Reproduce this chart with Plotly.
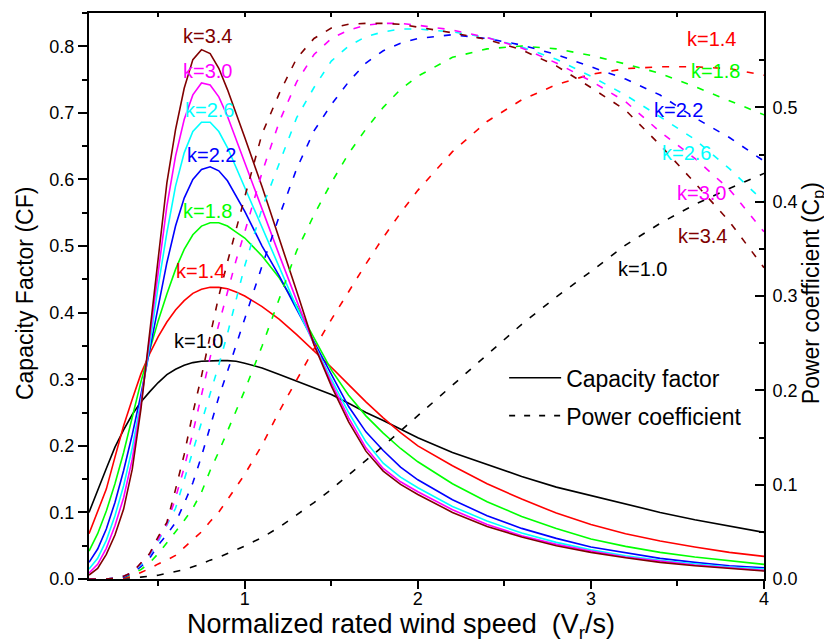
import plotly.graph_objects as go

# ---------------- data ----------------
X = [0.1, 0.15, 0.2, 0.25, 0.3, 0.35, 0.4, 0.45, 0.5, 0.55, 0.6, 0.65, 0.7, 0.75, 0.8,
     0.85, 0.9, 0.95, 1.0, 1.1, 1.2, 1.3, 1.4, 1.5, 1.6, 1.7, 1.8, 1.9, 2.0, 2.2, 2.4,
     2.6, 2.8, 3.0, 3.2, 3.4, 3.6, 3.8, 4.0]

K_LABELS = ["k=1.0", "k=1.4", "k=1.8", "k=2.2", "k=2.6", "k=3.0", "k=3.4"]
COLORS = ["#000000", "#FF0000", "#00FF00", "#0000FF", "#00FFFF", "#FF00FF", "#800000"]

# Capacity factor (left axis)
CF_K10 = [0.100, 0.134, 0.166, 0.198, 0.224, 0.247, 0.266, 0.281, 0.295, 0.307, 0.315, 0.321,
          0.325, 0.327, 0.328, 0.328, 0.328, 0.327, 0.324, 0.317, 0.307, 0.297, 0.287, 0.277,
          0.264, 0.250, 0.238, 0.225, 0.212, 0.190, 0.172, 0.154, 0.138, 0.125, 0.112, 0.100,
          0.089, 0.079, 0.070]
CF_K14 = [0.068, 0.100, 0.135, 0.183, 0.230, 0.270, 0.308, 0.338, 0.364, 0.386, 0.404, 0.418,
          0.429, 0.435, 0.438, 0.438, 0.436, 0.431, 0.425, 0.409, 0.390, 0.367, 0.343, 0.318,
          0.292, 0.266, 0.242, 0.220, 0.200, 0.170, 0.143, 0.120, 0.099, 0.082, 0.068, 0.057,
          0.048, 0.040, 0.034]
CF_K18 = [0.042, 0.068, 0.102, 0.143, 0.190, 0.243, 0.296, 0.343, 0.388, 0.428, 0.465, 0.495,
          0.517, 0.530, 0.535, 0.535, 0.530, 0.521, 0.512, 0.485, 0.452, 0.410, 0.362, 0.314,
          0.276, 0.245, 0.219, 0.196, 0.176, 0.143, 0.116, 0.094, 0.076, 0.060, 0.049, 0.040,
          0.033, 0.027, 0.022]
CF_K22 = [0.025, 0.045, 0.075, 0.115, 0.163, 0.217, 0.277, 0.345, 0.412, 0.475, 0.530, 0.572,
          0.600, 0.615, 0.619, 0.613, 0.598, 0.576, 0.552, 0.500, 0.455, 0.405, 0.356, 0.306,
          0.259, 0.221, 0.193, 0.168, 0.149, 0.119, 0.095, 0.076, 0.061, 0.048, 0.039, 0.031,
          0.025, 0.020, 0.017]
CF_K26 = [0.015, 0.031, 0.058, 0.095, 0.140, 0.197, 0.268, 0.350, 0.440, 0.520, 0.590, 0.640,
          0.672, 0.686, 0.686, 0.672, 0.648, 0.618, 0.587, 0.527, 0.467, 0.408, 0.353, 0.300,
          0.250, 0.206, 0.174, 0.153, 0.137, 0.109, 0.087, 0.069, 0.055, 0.044, 0.035, 0.028,
          0.023, 0.018, 0.015]
CF_K30 = [0.009, 0.022, 0.046, 0.080, 0.122, 0.180, 0.262, 0.360, 0.465, 0.560, 0.635, 0.690,
          0.727, 0.745, 0.742, 0.724, 0.695, 0.660, 0.624, 0.556, 0.486, 0.418, 0.352, 0.295,
          0.242, 0.197, 0.166, 0.146, 0.131, 0.104, 0.082, 0.065, 0.052, 0.042, 0.033, 0.027,
          0.021, 0.017, 0.013]
CF_K34 = [0.006, 0.016, 0.037, 0.066, 0.105, 0.165, 0.255, 0.370, 0.490, 0.595, 0.675, 0.737,
          0.780, 0.795, 0.789, 0.767, 0.735, 0.700, 0.663, 0.589, 0.512, 0.432, 0.352, 0.290,
          0.236, 0.192, 0.162, 0.142, 0.127, 0.100, 0.079, 0.063, 0.050, 0.040, 0.032, 0.025,
          0.020, 0.016, 0.012]

# Power coefficient (right axis)
CP_K10 = [0.000, 0.000, 0.000, 0.000, 0.001, 0.001, 0.002, 0.003, 0.004, 0.006, 0.008, 0.010,
          0.013, 0.016, 0.020, 0.023, 0.027, 0.031, 0.035, 0.044, 0.055, 0.068, 0.081, 0.095,
          0.110, 0.125, 0.141, 0.157, 0.173, 0.206, 0.238, 0.270, 0.299, 0.326, 0.354, 0.377,
          0.397, 0.414, 0.430]
CP_K14 = [0.000, 0.000, 0.000, 0.000, 0.001, 0.003, 0.007, 0.011, 0.016, 0.020, 0.025, 0.033,
          0.041, 0.050, 0.061, 0.071, 0.084, 0.097, 0.111, 0.142, 0.178, 0.211, 0.244, 0.275,
          0.305, 0.334, 0.362, 0.388, 0.412, 0.453, 0.485, 0.508, 0.524, 0.535, 0.541, 0.543,
          0.543, 0.541, 0.534]
CP_K18 = [0.000, 0.000, 0.000, 0.000, 0.002, 0.005, 0.010, 0.017, 0.027, 0.038, 0.050, 0.062,
          0.075, 0.092, 0.115, 0.135, 0.156, 0.178, 0.200, 0.247, 0.298, 0.348, 0.386, 0.420,
          0.451, 0.477, 0.500, 0.519, 0.533, 0.553, 0.562, 0.565, 0.562, 0.555, 0.546, 0.536,
          0.522, 0.507, 0.492]
CP_K22 = [0.000, 0.000, 0.000, 0.001, 0.002, 0.006, 0.013, 0.022, 0.036, 0.047, 0.060, 0.080,
          0.102, 0.130, 0.162, 0.193, 0.220, 0.247, 0.276, 0.332, 0.385, 0.435, 0.475, 0.503,
          0.527, 0.547, 0.560, 0.568, 0.573, 0.577, 0.573, 0.566, 0.556, 0.543, 0.530, 0.513,
          0.489, 0.468, 0.443]
CP_K26 = [0.000, 0.000, 0.000, 0.001, 0.003, 0.007, 0.015, 0.025, 0.040, 0.057, 0.075, 0.105,
          0.135, 0.165, 0.195, 0.227, 0.260, 0.296, 0.332, 0.393, 0.441, 0.489, 0.521, 0.549,
          0.565, 0.575, 0.580, 0.583, 0.583, 0.580, 0.574, 0.564, 0.551, 0.533, 0.513, 0.490,
          0.466, 0.435, 0.400]
CP_K30 = [0.000, 0.000, 0.000, 0.001, 0.003, 0.007, 0.016, 0.026, 0.042, 0.058, 0.086, 0.118,
          0.155, 0.195, 0.235, 0.270, 0.305, 0.338, 0.368, 0.431, 0.485, 0.527, 0.556, 0.573,
          0.582, 0.587, 0.589, 0.589, 0.587, 0.582, 0.574, 0.563, 0.547, 0.528, 0.506, 0.474,
          0.446, 0.413, 0.368]
CP_K34 = [0.000, 0.000, 0.000, 0.001, 0.003, 0.007, 0.017, 0.027, 0.045, 0.060, 0.095, 0.132,
          0.176, 0.215, 0.258, 0.300, 0.336, 0.372, 0.405, 0.472, 0.515, 0.552, 0.573, 0.584,
          0.588, 0.589, 0.589, 0.588, 0.585, 0.579, 0.572, 0.561, 0.544, 0.521, 0.497, 0.460,
          0.420, 0.379, 0.330]

CF_SERIES = [CF_K10, CF_K14, CF_K18, CF_K22, CF_K26, CF_K30, CF_K34]
CP_SERIES = [CP_K10, CP_K14, CP_K18, CP_K22, CP_K26, CP_K30, CP_K34]

# label anchor positions (text placement)
CF_LABEL_X = [0.730, 0.747, 0.785, 0.805, 0.799, 0.7875, 0.7875]
CF_LABEL_Y = [0.357, 0.463, 0.553, 0.6375, 0.705, 0.763, 0.816]
CP_LABEL_X = [3.30, 3.694, 3.717, 3.506, 3.555, 3.636, 3.645]
CP_LABEL_Y = [0.3286, 0.5724, 0.538, 0.497, 0.452, 0.4097, 0.364]

FONT = "Liberation Sans, Arial, sans-serif"
DASH = "7px,10px"

fig = go.Figure()

for cf, color in zip(CF_SERIES, COLORS):
    fig.add_trace(go.Scatter(x=X, y=cf, mode="lines", yaxis="y",
                             line=dict(color=color, width=1.6),
                             showlegend=False, hoverinfo="skip"))
for cp, color in zip(CP_SERIES, COLORS):
    fig.add_trace(go.Scatter(x=X, y=cp, mode="lines", yaxis="y2",
                             line=dict(color=color, width=1.6, dash=DASH),
                             showlegend=False, hoverinfo="skip"))

# legend entries
fig.add_trace(go.Scatter(x=[None], y=[None], mode="lines", name="Capacity factor",
                         line=dict(color="black", width=1.6), legendgroup="a"))
fig.add_trace(go.Scatter(x=[None], y=[None], mode="lines", name="Power coefficient",
                         line=dict(color="black", width=1.6, dash="6px,9px"), legendgroup="b"))
# carrier for the top tick axis
fig.add_trace(go.Scatter(x=[X[0], X[-1]], y=[None, None], xaxis="x2", yaxis="y",
                         mode="lines", showlegend=False, hoverinfo="skip"))

annotations = []
for lab, c, x, y in zip(K_LABELS, COLORS, CF_LABEL_X, CF_LABEL_Y):
    annotations.append(dict(x=x, y=y, xref="x", yref="y", text=lab, showarrow=False,
                            font=dict(family=FONT, size=20, color=c),
                            xanchor="center", yanchor="middle"))
for lab, c, x, y in zip(K_LABELS, COLORS, CP_LABEL_X, CP_LABEL_Y):
    annotations.append(dict(x=x, y=y, xref="x", yref="y2", text=lab, showarrow=False,
                            font=dict(family=FONT, size=20, color=c),
                            xanchor="center", yanchor="middle"))
# axis titles
annotations.append(dict(x=0.462, y=-0.083, xref="paper", yref="paper",
                        text="Normalized rated wind speed&nbsp; (V<sub>r</sub>/s)",
                        showarrow=False, font=dict(family=FONT, size=27, color="black"),
                        xanchor="center", yanchor="middle"))
annotations.append(dict(x=-0.0948, y=0.5035, xref="paper", yref="paper",
                        text="Capacity Factor (CF)", textangle=-90,
                        showarrow=False, font=dict(family=FONT, size=23, color="black"),
                        xanchor="center", yanchor="middle"))
annotations.append(dict(x=1.0711, y=0.505, xref="paper", yref="paper",
                        text="Power coefficient (C<sub>p</sub>)", textangle=-90,
                        showarrow=False, font=dict(family=FONT, size=23, color="black"),
                        xanchor="center", yanchor="middle"))

fig.update_layout(
    width=824, height=636,
    margin=dict(l=81, r=68, t=5, b=65, autoexpand=False),
    paper_bgcolor="white", plot_bgcolor="white",
    font=dict(family=FONT, size=18, color="black"),
    xaxis=dict(range=[0.1, 4.0], tickmode="linear", tick0=0, dtick=1,
               showline=True, linewidth=2, linecolor="black", mirror=True,
               ticks="outside", ticklen=8, tickwidth=1.5, tickcolor="black",
               ticklabelstandoff=-6,
               minor=dict(dtick=0.5, tick0=0, ticks="outside", ticklen=5, tickwidth=1.5,
                          tickcolor="black"),
               showgrid=False, zeroline=False, tickfont=dict(size=18), automargin=False),
    xaxis2=dict(range=[0.1, 4.0], overlaying="x", side="top", tickmode="linear",
                tick0=0, dtick=0.5, ticks="inside", ticklen=4, tickwidth=1.5,
                tickcolor="black", showticklabels=False, showline=False,
                showgrid=False, zeroline=False, automargin=False),
    yaxis=dict(range=[0, 0.85], tickmode="linear", tick0=0, dtick=0.1, tickformat=".1f",
               showline=True, linewidth=2, linecolor="black",
               ticks="outside", ticklen=9, tickwidth=1.5, tickcolor="black",
               minor=dict(dtick=0.05, tick0=0, ticks="outside", ticklen=5, tickwidth=1.5,
                          tickcolor="black"),
               showgrid=False, zeroline=False, tickfont=dict(size=18), automargin=False),
    yaxis2=dict(range=[0, 0.6], overlaying="y", side="right", tickmode="linear", tick0=0,
                dtick=0.1, tickformat=".1f",
                showline=True, linewidth=2, linecolor="black",
                ticks="inside", ticklen=9, tickwidth=1.5, tickcolor="black",
                ticklabelstandoff=3,
                minor=dict(dtick=0.05, tick0=0, ticks="inside", ticklen=5, tickwidth=1.5,
                           tickcolor="black"),
                showgrid=False, zeroline=False, tickfont=dict(size=18), automargin=False),
    legend=dict(x=0.615, y=0.3935, xanchor="left", yanchor="top",
                bgcolor="rgba(0,0,0,0)", font=dict(family=FONT, size=23),
                tracegroupgap=5, itemwidth=52),
    annotations=annotations,
)

fig.write_html("out.html")
